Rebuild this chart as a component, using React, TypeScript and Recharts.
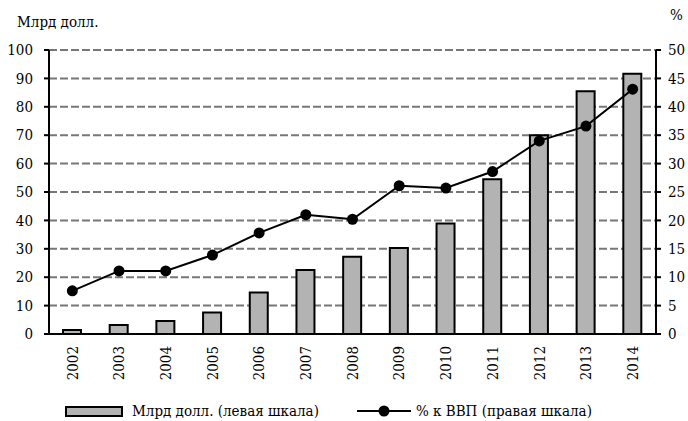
import React from 'react';
import { ComposedChart, Bar, Line, XAxis, YAxis, CartesianGrid, Legend, Label } from 'recharts';

const years = ['2002', '2003', '2004', '2005', '2006', '2007', '2008', '2009', '2010', '2011', '2012', '2013', '2014'];
const billions = [1.4, 3.2, 4.6, 7.6, 14.6, 22.5, 27.2, 30.3, 38.9, 54.5, 70.0, 85.5, 91.6];
const pctGdp = [7.6, 11.1, 11.1, 13.9, 17.8, 21.0, 20.2, 26.1, 25.7, 28.6, 34.0, 36.6, 43.1];
const leftTicks = [0, 10, 20, 30, 40, 50, 60, 70, 80, 90, 100];
const rightTicks = [0, 5, 10, 15, 20, 25, 30, 35, 40, 45, 50];
const barName = 'Млрд долл. (левая шкала)';
const lineName = '% к ВВП (правая шкала)';
const leftUnit = 'Млрд долл.';
const rightUnit = '%';

const data = years.map((y, i) => ({ year: y, bn: billions[i], pct: pctGdp[i] }));

const FONT = '"DejaVu Serif Condensed", "DejaVu Serif"';
const textStyle = { fontFamily: FONT, fontSize: 15, fontStretch: 'condensed' as const };

const XTick = (props: any) => {
  const { x, y, payload } = props;
  return (
    <text
      x={x}
      y={y}
      transform={`rotate(-90, ${x}, ${y})`}
      textAnchor="end"
      dy="0.35em"
      style={textStyle}
      fill="#000"
    >
      {payload.value}
    </text>
  );
};

const YTick = (props: any) => {
  const { x, y, payload, textAnchor } = props;
  return (
    <text x={x} y={y} dy="0.35em" textAnchor={textAnchor} style={textStyle} fill="#000">
      {payload.value}
    </text>
  );
};

const LegendContent = () => (
  <div
    style={{
      display: 'flex',
      alignItems: 'center',
      height: 30,
      paddingLeft: 65,
      paddingTop: 10,
      boxSizing: 'border-box',
      ...textStyle,
      color: '#000',
      whiteSpace: 'nowrap',
    }}
  >
    <div style={{ width: 54, height: 7, background: '#b3b3b3', border: '2px solid #000' }} />
    <span style={{ marginLeft: 9 }}>{barName}</span>
    <svg width={54} height={14} style={{ marginLeft: 38 }}>
      <line x1={0} y1={7} x2={54} y2={7} stroke="#000" strokeWidth={2} />
      <circle cx={27} cy={7} r={5.5} fill="#000" />
    </svg>
    <span style={{ marginLeft: 5 }}>{lineName}</span>
  </div>
);

export default function App() {
  return (
    <div style={{ position: 'absolute', left: 0, top: 0, background: '#fff', fontFamily: FONT }}>
      <ComposedChart width={688} height={421} data={data} margin={{ top: 50, right: 0, bottom: 0, left: 0 }}>
        <CartesianGrid
          yAxisId="left"
          vertical={false}
          stroke="#777"
          strokeWidth={2}
          strokeDasharray="8 3"
        />
        <XAxis
          dataKey="year"
          height={57}
          tickLine={false}
          tickSize={0}
          tickMargin={12}
          axisLine={{ stroke: '#000', strokeWidth: 2 }}
          tick={<XTick />}
          interval={0}
        />
        <YAxis
          yAxisId="left"
          orientation="left"
          width={49}
          domain={[0, 100]}
          ticks={leftTicks}
          interval={0}
          tickSize={5}
          tickMargin={11}
          axisLine={{ stroke: '#000', strokeWidth: 2 }}
          tickLine={{ stroke: '#000', strokeWidth: 2 }}
          tick={<YTick />}
        >
          <Label
            content={(p: any) => (
              <text x={p.viewBox.x + 17} y={p.viewBox.y - 23} style={textStyle} fill="#000">
                {leftUnit}
              </text>
            )}
          />
        </YAxis>
        <YAxis
          yAxisId="right"
          orientation="right"
          width={32}
          domain={[0, 50]}
          ticks={rightTicks}
          interval={0}
          tickSize={5}
          tickMargin={7}
          axisLine={{ stroke: '#000', strokeWidth: 2 }}
          tickLine={{ stroke: '#000', strokeWidth: 2 }}
          tick={<YTick />}
        >
          <Label
            content={(p: any) => (
              <text x={p.viewBox.x + 14} y={p.viewBox.y - 30} style={textStyle} fill="#000">
                {rightUnit}
              </text>
            )}
          />
        </YAxis>
        <Bar
          yAxisId="left"
          dataKey="bn"
          name={barName}
          barSize={18}
          fill="#b3b3b3"
          stroke="#000"
          strokeWidth={2}
          isAnimationActive={false}
        />
        <Line
          yAxisId="right"
          dataKey="pct"
          name={lineName}
          type="linear"
          stroke="#000"
          strokeWidth={2}
          dot={{ r: 5.5, fill: '#000', stroke: '#000', strokeWidth: 0 }}
          activeDot={false}
          isAnimationActive={false}
        />
        <Legend
          verticalAlign="bottom"
          height={30}
          content={<LegendContent />}
          wrapperStyle={{ left: 0, width: 688 }}
        />
      </ComposedChart>
    </div>
  );
}
